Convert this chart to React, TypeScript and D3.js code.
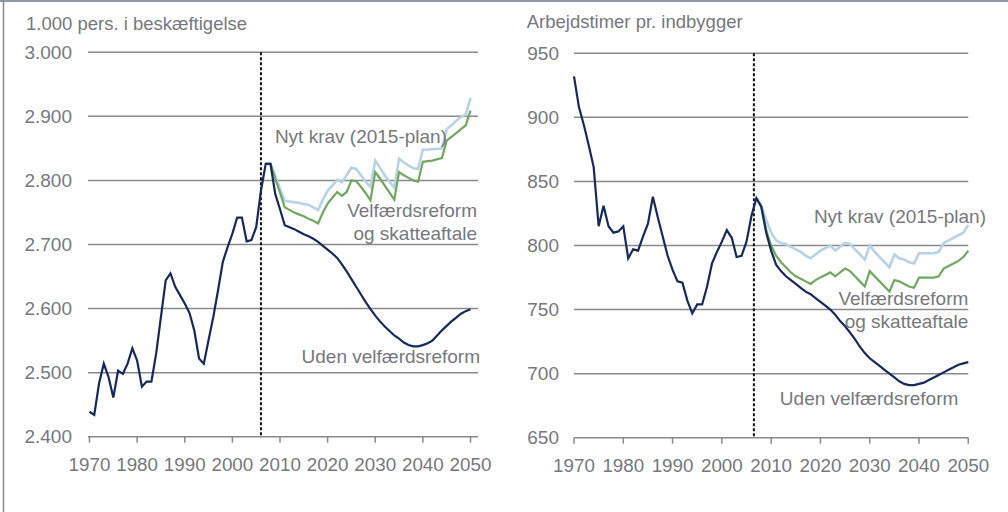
import React from "react";
import * as d3 from "d3";

// ---------- data ----------
const histStart = 1970;
const fcStart = 2007;

// Left panel: 1.000 pers. i beskæftigelse
const empUden = [
  2439, 2434, 2483, 2514, 2493, 2461, 2503, 2498, 2514, 2538,
  2519, 2478, 2486, 2486, 2530, 2587, 2644, 2655, 2634, 2621,
  2608, 2593, 2566, 2522, 2514, 2551, 2587, 2629, 2673, 2696,
  2717, 2742, 2742, 2705, 2707, 2727, 2784, 2826, 2826, 2779,
  2755, 2730, 2727, 2724, 2720, 2716, 2713, 2709, 2704, 2698,
  2692, 2686, 2679, 2669, 2658, 2646, 2634, 2622, 2610, 2599,
  2589, 2580, 2572, 2565, 2558, 2553, 2547, 2543, 2541, 2541,
  2543, 2546, 2550, 2558, 2566, 2573, 2580, 2586, 2592, 2596, 2599,
];
const empNytKrav = [
  2826, 2826, 2807, 2787, 2768, 2767, 2766, 2765, 2763, 2762, 2758, 2754,
  2770, 2784, 2792, 2801, 2797, 2808, 2820, 2818, 2808, 2798, 2790,
  2831, 2820, 2808, 2798, 2789, 2834, 2828, 2823, 2819, 2818,
  2848, 2848, 2849, 2849, 2850, 2880, 2886, 2893, 2899, 2903, 2929,
];
const empVelfaerd = [
  2826, 2826, 2803, 2781, 2758, 2754, 2750, 2747, 2744, 2740, 2737, 2733,
  2750, 2764, 2773, 2782, 2776, 2782, 2800, 2799, 2790, 2780, 2769,
  2813, 2803, 2792, 2781, 2770, 2813, 2808, 2804, 2800, 2798,
  2829, 2830, 2831, 2833, 2835, 2862, 2868, 2874, 2880, 2886, 2909,
];

// Right panel: Arbejdstimer pr. indbygger
const hrsUden = [
  932, 908, 894, 878, 861, 815, 831, 815, 810, 811,
  815, 790, 797, 796, 807, 817, 838, 822, 807, 792,
  781, 772, 771, 757, 747, 754, 754, 768, 786, 795,
  803, 812, 806, 791, 792, 803, 823, 837, 830, 810,
  796, 785, 780, 776, 773, 770, 767, 764, 762, 759,
  756, 753, 750, 746, 741, 737, 732, 727, 721, 716,
  712, 709, 706, 703, 700, 697, 694, 692, 691, 691,
  692, 693, 695, 697, 699, 701, 703, 705, 707, 708, 709,
];
const hrsNytKrav = [
  837, 831, 820, 810, 804, 802, 801, 799, 797, 795, 792, 790,
  793, 796, 798, 800, 796, 799, 802, 801, 797, 793, 789,
  800, 795, 791, 787, 783, 793, 790, 789, 787, 786,
  794, 794, 794, 794, 795, 802, 804, 806, 808, 810, 816,
];
const hrsVelfaerd = [
  837, 831, 812, 800, 792, 787, 783, 779, 776, 774, 772, 770,
  773, 775, 777, 779, 776, 779, 782, 780, 776, 772, 768,
  780, 776, 772, 768, 764, 773, 772, 770, 768, 767,
  775, 775, 775, 775, 776, 782, 784, 786, 788, 791, 796,
];

const xTicks = [1970, 1980, 1990, 2000, 2010, 2020, 2030, 2040, 2050];
const empTicks = [2400, 2500, 2600, 2700, 2800, 2900, 3000];
const hrsTicks = [650, 700, 750, 800, 850, 900, 950];

const labelNyt = "Nyt krav (2015-plan)";
const labelVelf1 = "Velfærdsreform";
const labelVelf2 = "og skatteaftale";
const labelUden = "Uden velfærdsreform";

// ---------- style ----------
const NAVY = "#15295a";
const LIGHTBLUE = "#b6d3e7";
const GREEN = "#6fa85f";
const GRID = "#8a8a8a";
const TEXT = "#76787b";
const FONT = "'Liberation Sans', Arial, Helvetica, sans-serif";

const da = d3.formatLocale({ decimal: ",", thousands: ".", grouping: [3], currency: ["", " kr."] });
const fmt = da.format(",d");

const toPts = (vals: number[], start: number) => vals.map((v, i) => ({ year: start + i, v }));

type PanelCfg = {
  title: string;
  titleX: number;
  titleY: number;
  xRange: [number, number];
  gridX: [number, number];
  yRange: [number, number];
  yDomain: [number, number];
  yTicks: number[];
  labelRight: number;
  split: number;
  uden: number[];
  nyt: number[];
  velf: number[];
  ann: { nyt: [number, number]; velf: [number, number, number]; uden: [number, number] };
};

function Panel({ c }: { c: PanelCfg }) {
  const x = d3.scaleLinear().domain([1970, 2050]).range(c.xRange);
  const y = d3.scaleLinear().domain(c.yDomain).range(c.yRange);
  const line = d3
    .line<{ year: number; v: number }>()
    .x((d) => x(d.year))
    .y((d) => y(d.v));
  const [yb, yt] = c.yRange;
  return (
    <g>
      <text x={c.titleX} y={c.titleY} fontSize={18.5} fill={TEXT} fontFamily={FONT}>
        {c.title}
      </text>
      {c.yTicks.map((t) => (
        <g key={t}>
          <line x1={c.gridX[0]} x2={c.gridX[1]} y1={y(t)} y2={y(t)} stroke={GRID} strokeWidth={1.5} />
          <text
            x={c.labelRight}
            y={y(t)}
            dy="0.35em"
            textAnchor="end"
            fontSize={19}
            fill={TEXT}
            fontFamily={FONT}
          >
            {fmt(t)}
          </text>
        </g>
      ))}
      {xTicks.map((t) => (
        <g key={t}>
          <line x1={x(t)} x2={x(t)} y1={yb} y2={yb + 6} stroke={GRID} strokeWidth={1.5} />
          <text x={x(t)} y={yb + 34} textAnchor="middle" fontSize={18.8} fill={TEXT} fontFamily={FONT}>
            {t}
          </text>
        </g>
      ))}
      <line
        x1={x(c.split)}
        x2={x(c.split)}
        y1={yt}
        y2={yb}
        stroke="#111"
        strokeWidth={2}
        strokeDasharray="3,2"
      />
      <path d={line(toPts(c.nyt, fcStart)) || ""} fill="none" stroke={LIGHTBLUE} strokeWidth={2.6} />
      <path d={line(toPts(c.velf, fcStart)) || ""} fill="none" stroke={GREEN} strokeWidth={2.2} />
      <path d={line(toPts(c.uden, histStart)) || ""} fill="none" stroke={NAVY} strokeWidth={2.2} />
      <text x={c.ann.nyt[0]} y={c.ann.nyt[1]} textAnchor="end" fontSize={19} fill={TEXT} fontFamily={FONT}>
        {labelNyt}
      </text>
      <text x={c.ann.velf[0]} y={c.ann.velf[1]} textAnchor="end" fontSize={19} fill={TEXT} fontFamily={FONT}>
        {labelVelf1}
      </text>
      <text x={c.ann.velf[0]} y={c.ann.velf[2]} textAnchor="end" fontSize={19} fill={TEXT} fontFamily={FONT}>
        {labelVelf2}
      </text>
      <text x={c.ann.uden[0]} y={c.ann.uden[1]} textAnchor="end" fontSize={19} fill={TEXT} fontFamily={FONT}>
        {labelUden}
      </text>
    </g>
  );
}

const leftCfg: PanelCfg = {
  title: "1.000 pers. i beskæftigelse",
  titleX: 26,
  titleY: 29.5,
  xRange: [89.5, 470.5],
  gridX: [88, 478],
  yRange: [436.7, 52.3],
  yDomain: [2400, 3000],
  yTicks: empTicks,
  labelRight: 72,
  split: 2006,
  uden: empUden,
  nyt: empNytKrav,
  velf: empVelfaerd,
  ann: { nyt: [447, 142.7], velf: [477, 216.7, 240], uden: [480, 362.7] },
};

const rightCfg: PanelCfg = {
  title: "Arbejdstimer pr. indbygger",
  titleX: 526.7,
  titleY: 27.5,
  xRange: [574, 968.3],
  gridX: [574, 968.3],
  yRange: [437.7, 53.3],
  yDomain: [650, 950],
  yTicks: hrsTicks,
  labelRight: 559,
  split: 2006.5,
  uden: hrsUden,
  nyt: hrsNytKrav,
  velf: hrsVelfaerd,
  ann: { nyt: [986, 222.7], velf: [968.3, 305.3, 327.7], uden: [958.3, 405.3] },
};

export default function App() {
  return (
    <svg
      width={1008}
      height={512}
      style={{ position: "absolute", left: 0, top: 0, background: "#fff" }}
    >
      <rect x={0} y={0} width={1008} height={512} fill="#fff" />
      <line x1={0} x2={1008} y1={1} y2={1} stroke="#8c99aa" strokeWidth={2} />
      <line x1={3.5} x2={3.5} y1={0} y2={512} stroke="#8a8a8a" strokeWidth={1.5} />
      <Panel c={leftCfg} />
      <Panel c={rightCfg} />
    </svg>
  );
}
